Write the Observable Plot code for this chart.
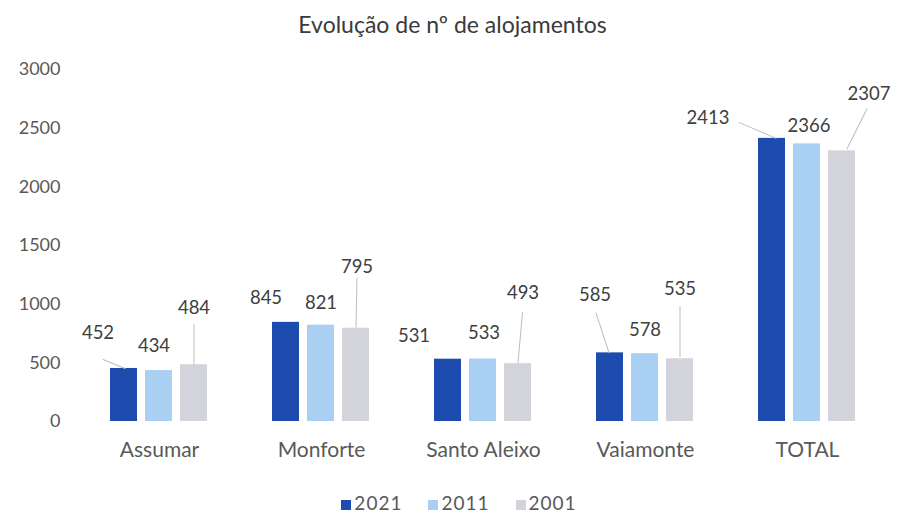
<!DOCTYPE html>
<html><head><meta charset="utf-8">
<script src="https://cdn.jsdelivr.net/npm/d3@7"></script>
<script src="https://cdn.jsdelivr.net/npm/@observablehq/plot@0.6"></script>
<style>
body{margin:0;background:#fff;font-family:Lato, "Noto Sans", sans-serif;width:897px;height:514px;overflow:hidden;}
#title{height:34px;padding-top:7px;padding-left:8px;line-height:34px;text-align:center;font-size:23px;color:#3a3a3a;}
#legend{margin-top:11px;height:22px;line-height:22px;text-align:center;font-size:19px;letter-spacing:1px;color:#595959;padding-left:21px;}
#legend span.item{display:inline-block;margin:0 13px;}
#legend span.sw{display:inline-block;width:10px;height:10px;margin-right:3px;vertical-align:0px;}
</style></head><body>
<div id="title">Evolução de nº de alojamentos</div>
<div id="chart"></div>
<div id="legend"></div>
<script>
const categories = ["Assumar", "Monforte", "Santo Aleixo", "Vaiamonte", "TOTAL"];
const years = ["2021", "2011", "2001"];
const values2021 = [452, 845, 531, 585, 2413];
const values2011 = [434, 821, 533, 578, 2366];
const values2001 = [484, 795, 493, 535, 2307];
const yTicks = [0, 500, 1000, 1500, 2000, 2500, 3000];

// styling
const colors = ["#1d4cae", "#a9cff2", "#d3d4db"];
// label placement (pixel offsets from the bar top centre), and optional leader line [startDx,startDy,endDx,endDy]
const labelLayout = {
  "Assumar|2021": {dx: -26, dy: -35, lead: [1, 0, -21, -9]},
  "Assumar|2011": {dx: -5, dy: -24},
  "Assumar|2001": {dx: 0, dy: -57, lead: [0, 0, 0, -40]},
  "Monforte|2021": {dx: -20, dy: -24},
  "Monforte|2011": {dx: 0, dy: -22},
  "Monforte|2001": {dx: 1, dy: -61, lead: [0, -1, 1, -50]},
  "Santo Aleixo|2021": {dx: -34, dy: -23},
  "Santo Aleixo|2011": {dx: 1, dy: -26},
  "Santo Aleixo|2001": {dx: 5, dy: -71, lead: [0, -1, 4.5, -51]},
  "Vaiamonte|2021": {dx: -15, dy: -58, lead: [-1, 0, -14, -40]},
  "Vaiamonte|2011": {dx: 0, dy: -24},
  "Vaiamonte|2001": {dx: 0, dy: -70, lead: [0, -2, 0, -52]},
  "TOTAL|2021": {dx: -64, dy: -20, lead: [4, 0, -33, -16]},
  "TOTAL|2011": {dx: 2, dy: -18},
  "TOTAL|2001": {dx: 27, dy: -57, lead: [5, -2, 25, -42]}
};

const seriesByYear = {"2021": values2021, "2011": values2011, "2001": values2001};
const data = years.flatMap(y => categories.map((c, i) => ({category: c, year: y, value: seriesByYear[y][i]})));

const lineShape = {draw(context, l) { context.moveTo(0, 0); context.lineTo(0, -l); }};

const labelMarks = data.flatMap(d => {
  const L = labelLayout[d.category + "|" + d.year];
  const marks = [];
  if (L.lead) {
    const [sx, sy, ex, ey] = L.lead;
    const len = Math.hypot(ex - sx, ey - sy);
    const rot = Math.atan2(ex - sx, -(ey - sy)) * 180 / Math.PI;
    marks.push(Plot.vector([d], {fx: "category", x: "year", y: "value", dx: sx, dy: sy,
      length: len, rotate: rot, anchor: "start", shape: lineShape, stroke: "#bdbdbd", strokeWidth: 1}));
  }
  marks.push(Plot.text([d], {fx: "category", x: "year", y: "value", text: v => String(v.value),
    dx: L.dx, dy: L.dy, fontSize: 18.5, fill: "#404040"}));
  return marks;
});

const chart = Plot.plot({
  width: 897,
  height: 440,
  marginLeft: 78,
  marginRight: 9,
  marginTop: 28,
  marginBottom: 60,
  style: {fontFamily: "Lato, 'Noto Sans', sans-serif", fontSize: "17px", color: "#595959", background: "#fff"},
  fx: {domain: categories, paddingInner: 0.383, paddingOuter: 0.1915, label: null},
  x: {domain: years, paddingInner: 0.222, paddingOuter: 0, axis: null},
  y: {domain: [0, 3000], label: null},
  color: {domain: years, range: colors},
  marks: [
    Plot.axisY({ticks: yTicks, tickFormat: d => String(d), tickSize: 0, tickPadding: 49, fontSize: 18, label: null}),
    Plot.axisFx({anchor: "bottom", tickSize: 0, tickPadding: 21, fontSize: 21, label: null}),
    Plot.barY(data, {fx: "category", x: "year", y: "value", fill: "year"}),
    ...labelMarks
  ]
});
document.getElementById("chart").appendChild(chart);

const legend = document.getElementById("legend");
years.forEach((y, i) => {
  const item = document.createElement("span");
  item.className = "item";
  const sw = document.createElement("span");
  sw.className = "sw";
  sw.style.background = colors[i];
  item.appendChild(sw);
  item.appendChild(document.createTextNode(y));
  legend.appendChild(item);
});
</script>
</body></html>
